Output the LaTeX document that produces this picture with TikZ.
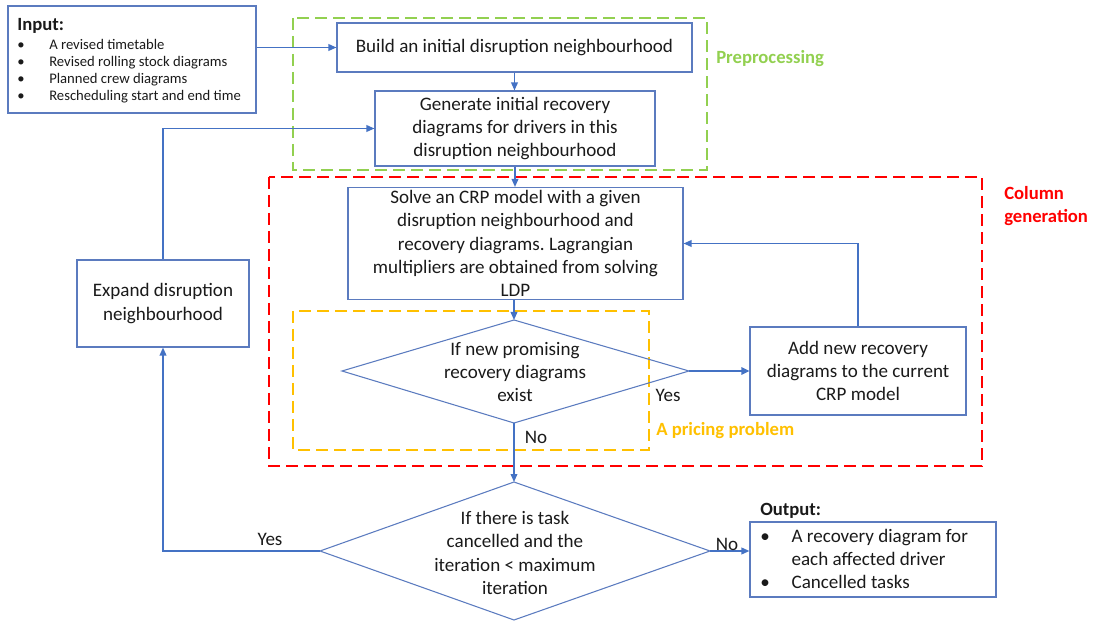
\documentclass[tikz,border=0pt]{standalone}
\usepackage{fontspec}
\setmainfont{Carlito}
\usetikzlibrary{arrows.meta}
\frenchspacing
\definecolor{bl}{HTML}{4472C4}
\definecolor{boxc}{HTML}{5B7BBF}
\definecolor{grn}{HTML}{92D050}
\definecolor{rd}{HTML}{FF0000}
\definecolor{ylw}{HTML}{FFC000}
\definecolor{txt}{HTML}{1A1A1A}
\tikzset{
  box/.style={draw=boxc, line width=0.8pt, inner sep=0pt},
  wh/.style 2 args={minimum width=#1*0.75pt, minimum height=#2*0.75pt},
  lbl/.style={inner sep=0pt, text=txt, font=\fontsize{14.3}{17.5}\selectfont, align=center},
  arr/.style={draw=bl, line width=1.1pt, -{Triangle[length=6pt,width=5pt]}},
  arrthick/.style={draw=bl, line width=1.8pt, -{Triangle[length=6pt,width=5.5pt]}},
  dsh/.style={line width=1.4pt, dash pattern=on 9pt off 4.5pt},
  grp/.style={inner sep=0pt, font=\fontsize{14}{17.4}\selectfont\bfseries, align=left}
}
\begin{document}
\begin{tikzpicture}[x=0.75pt,y=-0.75pt]
\useasboundingbox (0,0) rectangle (1096,623);
% group frames
\draw[dsh, draw=grn] (293,18) rectangle (707,170);
\draw[dsh, draw=rd] (269,177) rectangle (982,466);
\draw[dsh, draw=ylw] (293,311) rectangle (649,450);
\node[grp, text=grn, anchor=west] (lpre) at (716,59) {Preprocessing};
\node[grp, text=rd, anchor=west] (lcol) at (1004,206) {Column\\generation};
\node[grp, text=ylw, anchor=west] (lpri) at (656,431) {A pricing problem};

% input
\node[box, wh={248}{107}] (input) at (132,59.5) {};
\node[anchor=north west, align=left, inner sep=0pt, text=txt, font=\fontsize{11}{12.75}\selectfont] (inputtext) at (17,18)
 {{\fontsize{14}{15}\selectfont\bfseries Input:}\\[1.5pt]
  \makebox[24pt][l]{•}A revised timetable\\
  \makebox[24pt][l]{•}Revised rolling stock diagrams\\
  \makebox[24pt][l]{•}Planned crew diagrams\\
  \makebox[24pt][l]{•}Rescheduling start and end time};

% boxes
\node[box, wh={355}{49}, lbl] (build) at (514.5,47.5) {Build an initial disruption neighbourhood};
\node[box, wh={280}{75}, lbl] (gen) at (515,128.5) {Generate initial recovery\\diagrams for drivers in this\\disruption neighbourhood};
\node[box, wh={335}{112}, lbl] (solve) at (515.5,243.5) {Solve an CRP model with a given\\disruption neighbourhood and\\recovery diagrams. Lagrangian\\multipliers are obtained from solving\\LDP};
\node[box, wh={216}{88}, lbl] (add) at (858,371) {Add new recovery\\diagrams to the current\\CRP model};
\node[box, wh={172}{87}, lbl] (expand) at (163,303.5) {Expand disruption\\neighbourhood};
\node[box, wh={246}{75}] (output) at (873,559.5) {};
\node[grp, text=txt, anchor=west] (outlabel) at (760,511) {Output:};
\node[lbl, anchor=west, align=left] (outtext) at (760,559)
 {\makebox[23.5pt][l]{•}A recovery diagram for\\\hspace*{23.5pt}each affected driver\\\makebox[23.5pt][l]{•}Cancelled tasks};

% diamond 1
\coordinate (d1n) at (514,320);
\coordinate (d1s) at (514,423);
\coordinate (d1w) at (342,371);
\coordinate (d1e) at (689,371);
\draw[draw=boxc, line width=0.8pt] (d1n) -- (d1e) -- (d1s) -- (d1w) -- cycle;
\node[lbl] (d1) at (515,372) {If new promising\\recovery diagrams\\exist};

% diamond 2
\coordinate (d2n) at (514,482);
\coordinate (d2s) at (514,620);
\coordinate (d2w) at (320,551);
\coordinate (d2e) at (710,551);
\draw[draw=boxc, line width=0.8pt] (d2n) -- (d2e) -- (d2s) -- (d2w) -- cycle;
\node[lbl] (d2) at (515,553) {If there is task\\cancelled and the\\iteration < maximum\\iteration};

% connectors
\draw[arr] (input.east |- build.west) -- (build.west);
\draw[arr] (build.south) -- (gen.north -| build.south);
\draw[arr] (gen.south) -- (solve.north -| gen.south);
\draw[arr] (solve.south -| d1n) -- (d1n);
\draw[arrthick] (d1e) -- (add.west);
\draw[arr] (add.north) |- (solve.east);
\draw[arr] (d1s) -- (d2n);
\draw[arr] (d2w) -| (expand.south);
\draw[arr] (expand.north) |- (gen.west);
\draw[arr] (d2e) -- (d2e -| output.west);

% branch labels
\node[lbl] (y1) at (668,395) {Yes};
\node[lbl] (n1) at (536,437) {No};
\node[lbl] (y2) at (270,539) {Yes};
\node[lbl] (n2) at (727,544) {No};
\end{tikzpicture}
\end{document}
